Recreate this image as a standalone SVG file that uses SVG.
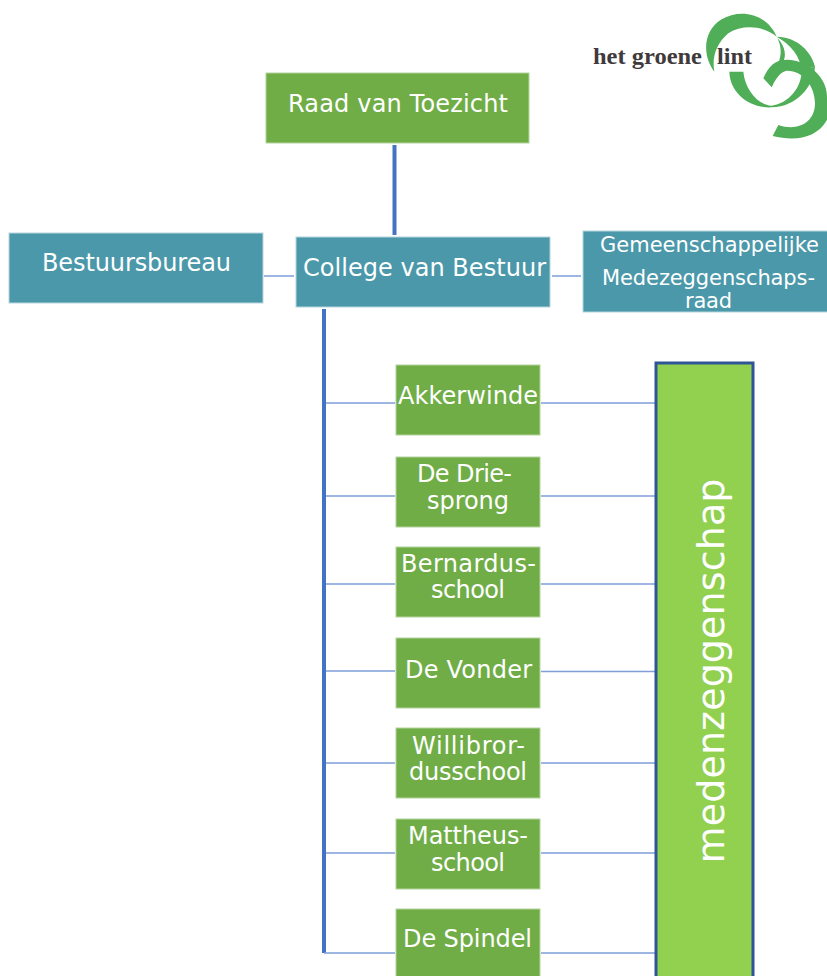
<svg xmlns="http://www.w3.org/2000/svg" width="827" height="976" viewBox="0 0 827 976">
<style>
.t{font-family:"DejaVu Sans",Verdana,sans-serif;fill:#fff;text-anchor:middle;font-size:24px}
.s{font-size:21px}
.teal{fill:#4a98a9;stroke:#b5d5dc;stroke-width:1}
.green{fill:#70ad47;stroke:#b4d49e;stroke-width:1}
.thin{stroke:#7f9fd9;stroke-width:1.6;fill:none}
.thick{stroke:#4472c4;stroke-width:4;fill:none}
.rib{fill:#4fae57}
.logo{font-family:"Liberation Serif",serif;font-weight:700;font-size:23px;fill:#3f3a3c}
</style>
<rect width="827" height="976" fill="#fff"/>
<g id="logo">
<g transform="translate(700 10) scale(.33333)">
<path class="rib" d="M43,185C5,135 10,60 65,28C120,-5 200,10 230,80C195,50 130,40 85,70C50,100 35,140 43,185Z"/>
<path class="rib" d="M230,80C290,80 335,125 345,170L305,180C300,140 275,105 230,80Z"/>
<path class="rib" d="M232,84C258,110 258,140 250,155L235,160C245,135 245,110 232,84Z"/>
<path class="rib" d="M190,205C205,170 225,150 255,150C305,145 381,190 381,260V330C350,385 285,395 218,378L235,345C290,365 345,340 345,280C345,225 305,180 260,182C240,185 225,210 215,232Z"/>
<path class="rib" d="M88,185L130,185C135,240 175,285 215,287C265,280 305,235 305,180L345,170C340,230 290,290 215,292C150,295 90,250 88,185Z"/>
</g>
<text class="logo" x="593" y="64" textLength="109" lengthAdjust="spacingAndGlyphs">het groene</text>
<text class="logo" x="717" y="64" textLength="35" lengthAdjust="spacingAndGlyphs">lint</text>
</g>
<g id="connectors">
<path class="thick" d="M394.500,145V235"/>
<path class="thick" d="M324,309V953"/>
<path class="thin" d="M264,276H294M552,276H581"/>
<path class="thin" d="M326,403H395M326,496H395M326,584H395M326,671H395M326,763H395M326,853H395M324,953H395"/>
<path class="thin" d="M541,403H655M541,496H655M541,584H655M541,671.500H655M541,763H655M541,853H655M541,953H655"/>
</g>
<g id="raad"><rect class="green" x="266" y="73" width="263" height="70"/><text class="t" x="398" y="112" textLength="220">Raad van Toezicht</text></g>
<g id="bestuursbureau"><rect class="teal" x="9" y="233" width="254" height="70"/><text class="t" x="136.500" y="270.500" textLength="189">Bestuursbureau</text></g>
<g id="college"><rect class="teal" x="296" y="237" width="254" height="70"/><text class="t" x="424.500" y="276" textLength="243">College van Bestuur</text></g>
<g id="gmr"><rect class="teal" x="583" y="231" width="245" height="81"/><text class="t s" x="709.500" y="252" textLength="219">Gemeenschappelijke</text><text class="t s" x="708.500" y="285" textLength="213">Medezeggenschaps-</text><text class="t s" x="708.500" y="308" textLength="47">raad</text></g>
<g id="akkerwinde"><rect class="green" x="396" y="365" width="144" height="70"/><text class="t" x="468" y="404" textLength="140">Akkerwinde</text></g>
<g id="driesprong"><rect class="green" x="396" y="457" width="144" height="70"/><text class="t" x="464.500" y="482" textLength="95">De Drie-</text><text class="t" x="468" y="509" textLength="82">sprong</text></g>
<g id="bernardus"><rect class="green" x="396" y="547" width="144" height="70"/><text class="t" x="468.500" y="572" textLength="135">Bernardus-</text><text class="t" x="468" y="598" textLength="74">school</text></g>
<g id="vonder"><rect class="green" x="396" y="638" width="144" height="70"/><text class="t" x="468.500" y="677.500" textLength="127">De Vonder</text></g>
<g id="willibrord"><rect class="green" x="396" y="728" width="144" height="70"/><text class="t" x="468.500" y="753.500" textLength="113">Willibror-</text><text class="t" x="468" y="780" textLength="118">dusschool</text></g>
<g id="mattheus"><rect class="green" x="396" y="819" width="144" height="70"/><text class="t" x="468" y="843.500" textLength="120">Mattheus-</text><text class="t" x="468" y="871" textLength="74">school</text></g>
<g id="spindel"><rect class="green" x="396" y="909" width="144" height="70"/><text class="t" x="467.500" y="946.500" textLength="129">De Spindel</text></g>
<g id="medezeggenschap"><rect x="656" y="363" width="97" height="620" fill="#92d050" stroke="#2f5597" stroke-width="3"/><text class="t" transform="translate(724 671) rotate(-90)" style="font-size:38px" textLength="385">medenzeggenschap</text></g>
</svg>
